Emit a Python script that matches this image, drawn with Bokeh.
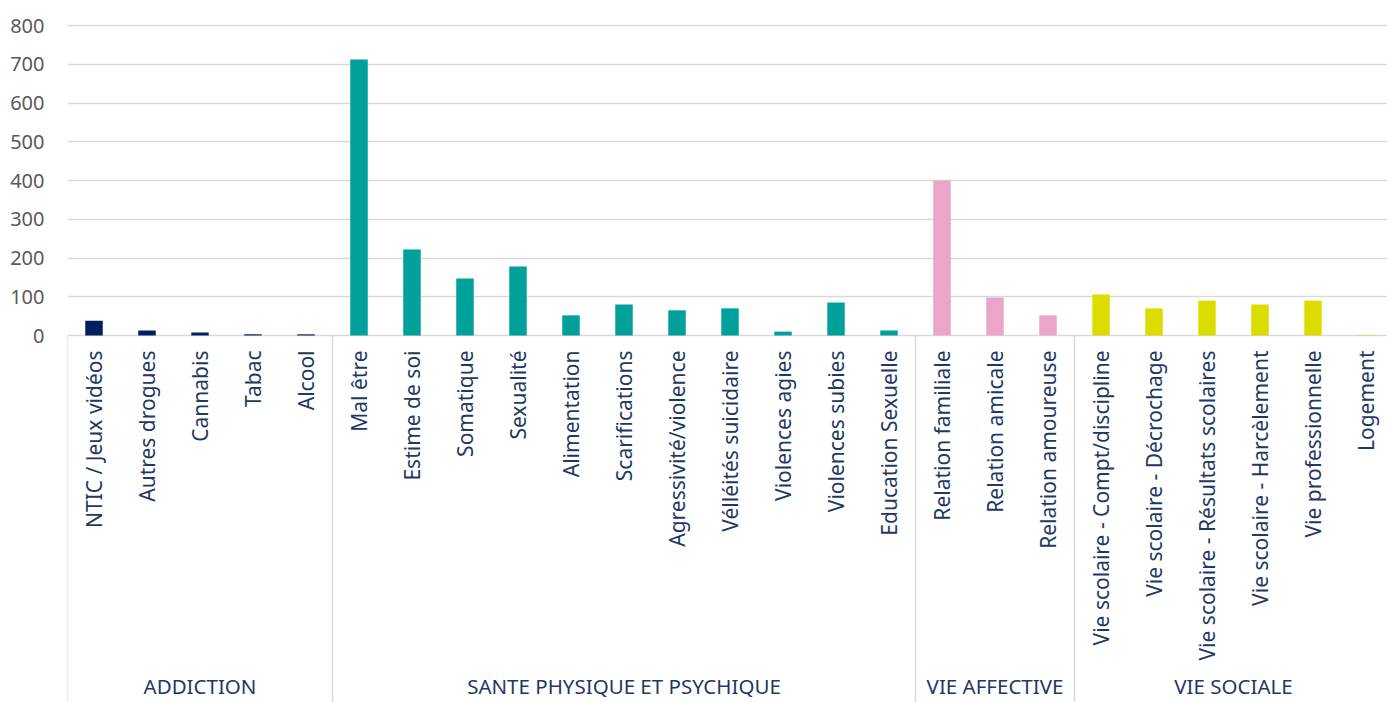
import math
from bokeh.plotting import figure
from bokeh.models import Range1d, FixedTicker, ColumnDataSource
from bokeh.core.properties import value
from bokeh.embed import file_html
from bokeh.resources import INLINE

# ---- data ----
categories = [
    "NTIC / Jeux vidéos", "Autres drogues", "Cannabis", "Tabac", "Alcool",
    "Mal être", "Estime de soi", "Somatique", "Sexualité", "Alimentation",
    "Scarifications", "Agressivité/violence", "Vélléités suicidaire",
    "Violences agies", "Violences subies", "Education Sexuelle",
    "Relation familiale", "Relation amicale", "Relation amoureuse",
    "Vie scolaire - Compt/discipline", "Vie scolaire - Décrochage",
    "Vie scolaire - Résultats scolaires", "Vie scolaire - Harcèlement",
    "Vie professionnelle", "Logement",
]
values = [38, 13, 8, 3, 3,
          712, 222, 147, 178, 52, 80, 65, 70, 10, 85, 13,
          400, 98, 52,
          106, 70, 90, 80, 90, 1]
group_names = ["ADDICTION", "SANTE PHYSIQUE ET PSYCHIQUE", "VIE AFFECTIVE", "VIE SOCIALE"]
group_sizes = [5, 11, 3, 6]
group_colors = ["#002060", "#00A19A", "#EBA5C9", "#DDDC00"]
y_ticks = [0, 100, 200, 300, 400, 500, 600, 700, 800]

# ---- layout (pixels) ----
W, H = 1387, 702
left_border = 67
frame_w = W - left_border
cat_px = 53.0
px_per_unit = 0.3875          # pixels per data unit on y
zero_px = 335                 # y of zero within the frame (frame top at page y=0)
y_top = zero_px / px_per_unit
y_bottom = -(H - zero_px) / px_per_unit

p = figure(width=W, height=H, output_backend="svg", toolbar_location=None,
           x_range=Range1d(0, frame_w / cat_px), y_range=Range1d(y_bottom, y_top),
           min_border_left=left_border, min_border_right=0,
           min_border_top=0, min_border_bottom=0)
p.outline_line_color = None
p.background_fill_color = "white"
p.border_fill_color = "white"
p.xaxis.visible = False
p.xgrid.visible = False

p.yaxis.ticker = FixedTicker(ticks=y_ticks)
p.yaxis.axis_line_color = None
p.yaxis.major_tick_line_color = None
p.yaxis.minor_tick_line_color = None
p.yaxis.major_tick_out = 0
p.yaxis.major_tick_in = 0
p.yaxis.major_label_standoff = 23
p.yaxis.major_label_text_font = "Noto Sans"
p.yaxis.major_label_text_font_size = "20px"
p.yaxis.major_label_text_color = "#595959"
p.ygrid.grid_line_color = "#D9D9D9"
p.ygrid.grid_line_width = 1.5

colors = []
groups = []
for g, n, c in zip(group_names, group_sizes, group_colors):
    colors += [c] * n
    groups += [g] * n
xs = [i + 0.5 for i in range(len(categories))]
src = ColumnDataSource(dict(x=xs, top=values, color=colors, cat=categories))
p.vbar(x="x", top="top", bottom=0, width=0.33, fill_color="color", line_color=None, source=src)

# category labels (rotated)
label_y = -(350 - zero_px) / px_per_unit
p.text(x="x", y=label_y, text="cat", source=src, angle=math.pi / 2,
       text_align="right", text_baseline="middle",
       text_font=value("Noto Sans"), text_font_size="21px", text_color="#1F3864")

# group separators and labels
bounds = [0]
for n in group_sizes:
    bounds.append(bounds[-1] + n)
p.segment(x0=bounds, y0=[0] * len(bounds), x1=bounds, y1=[y_bottom] * len(bounds),
          line_color="#D9D9D9", line_width=1.5)
mids = [(a + b) / 2 for a, b in zip(bounds[:-1], bounds[1:])]
group_y = -(685 - zero_px) / px_per_unit
p.text(x=mids, y=[group_y] * len(mids), text=group_names,
       text_align="center", text_baseline="middle",
       text_font=value("Noto Sans"), text_font_size="20.5px", text_color="#1F3864")

open("out.html", "w").write(file_html(p, INLINE))
